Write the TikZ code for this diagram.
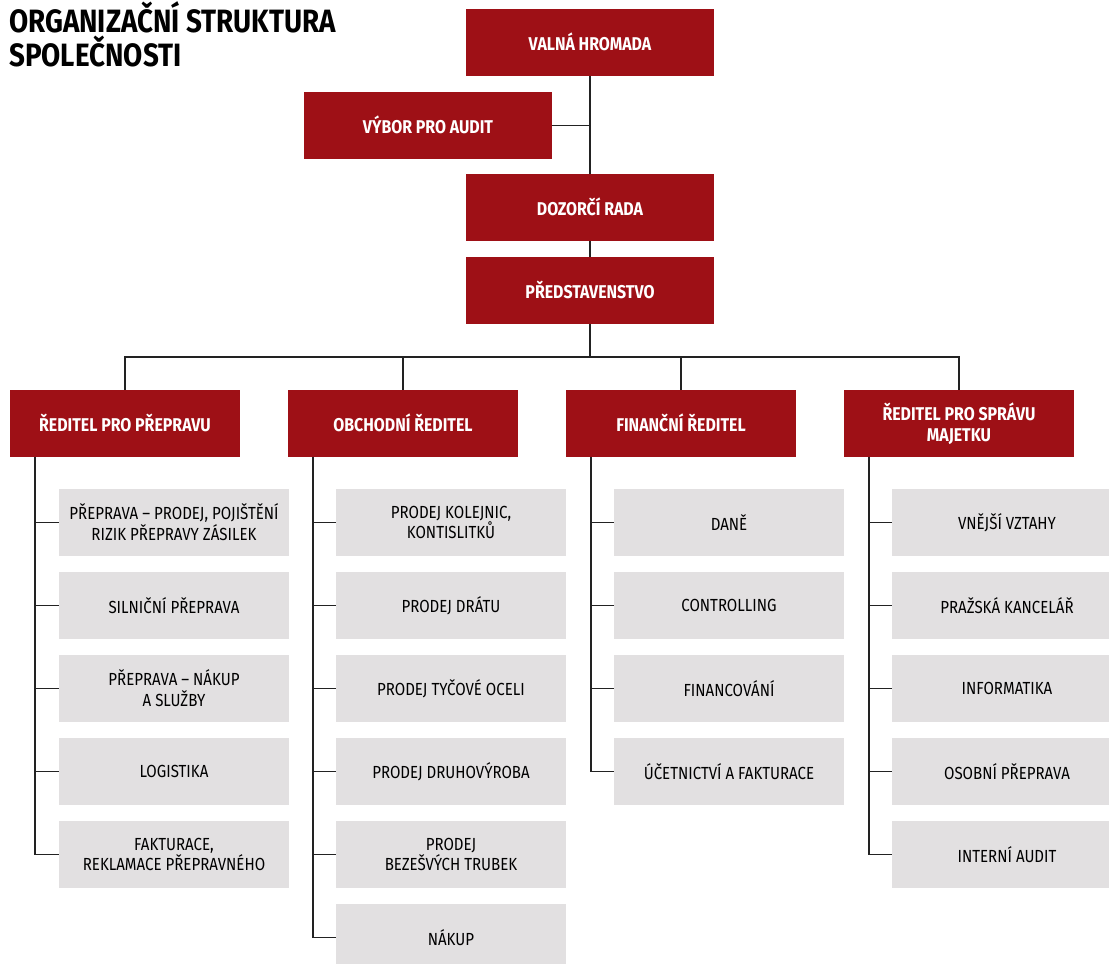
\documentclass[tikz,border=0pt]{standalone}
\usepackage{fontspec}
\setmainfont{Fira Sans}[FakeStretch=0.86]
\definecolor{boxred}{HTML}{9E1016}
\definecolor{boxgrey}{HTML}{E2E0E1}
\definecolor{linec}{HTML}{222222}
\begin{document}
\begin{tikzpicture}[x=1pt,y=-1pt,
  redbox/.style={rectangle,fill=boxred,text=white,inner sep=0pt,minimum height=66.7pt,
    align=center,font=\fontsize{18.5}{21}\selectfont\bfseries},
  topbox/.style={redbox,minimum width=248pt},
  dirbox/.style={redbox,minimum width=230pt},
  greybox/.style={rectangle,fill=boxgrey,text=black,inner sep=0pt,minimum height=66.7pt,
    minimum width=230pt,align=center,font=\fontsize{17.5}{20.5}\selectfont},
  titletext/.style={anchor=base west,inner sep=0pt,font=\fontsize{32.3}{34}\selectfont\bfseries},
  conn/.style={draw=linec,line width=1.3pt}]
\useasboundingbox (0,0) rectangle (1109,964);
\clip (0,0) rectangle (1109,964);
\fill[white] (0,0) rectangle (1109,964);
% title
\node[titletext] (title1) at (9,32) {ORGANIZAČNÍ STRUKTURA};
\node[titletext] (title2) at (9,66) {SPOLEČNOSTI};
% top boxes
\node[topbox] (valna) at (590,42.3) {VALNÁ HROMADA};
\node[topbox] (vybor) at (428,125.3) {VÝBOR PRO AUDIT};
\node[topbox] (dozor) at (590,207.3) {DOZORČÍ RADA};
\node[topbox] (pred) at (590,290.3) {PŘEDSTAVENSTVO};
% directors
\node[dirbox] (d1) at (125,423.3) {ŘEDITEL PRO PŘEPRAVU};
\node[dirbox] (d2) at (403,423.3) {OBCHODNÍ ŘEDITEL};
\node[dirbox] (d3) at (681,423.3) {FINANČNÍ ŘEDITEL};
\node[dirbox] (d4) at (959,423.3) {ŘEDITEL PRO SPRÁVU\\MAJETKU};
% column 1
\node[greybox] (a1) at (174,522.3) {PŘEPRAVA – PRODEJ, POJIŠTĚNÍ\\RIZIK PŘEPRAVY ZÁSILEK};
\node[greybox] (a2) at (174,605.3) {SILNIČNÍ PŘEPRAVA};
\node[greybox] (a3) at (174,688.3) {PŘEPRAVA – NÁKUP\\A SLUŽBY};
\node[greybox] (a4) at (174,771.3) {LOGISTIKA};
\node[greybox] (a5) at (174,854.3) {FAKTURACE,\\REKLAMACE PŘEPRAVNÉHO};
% column 2
\node[greybox] (b1) at (451,522.3) {PRODEJ KOLEJNIC,\\KONTISLITKŮ};
\node[greybox] (b2) at (451,605.3) {PRODEJ DRÁTU};
\node[greybox] (b3) at (451,688.3) {PRODEJ TYČOVÉ OCELI};
\node[greybox] (b4) at (451,771.3) {PRODEJ DRUHOVÝROBA};
\node[greybox] (b5) at (451,854.3) {PRODEJ\\BEZEŠVÝCH TRUBEK};
\node[greybox] (b6) at (451,937.3) {NÁKUP};
% column 3
\node[greybox] (c1) at (729,522.3) {DANĚ};
\node[greybox] (c2) at (729,605.3) {CONTROLLING};
\node[greybox] (c3) at (729,688.3) {FINANCOVÁNÍ};
\node[greybox] (c4) at (729,771.3) {ÚČETNICTVÍ A FAKTURACE};
% column 4
\node[greybox] (e1) at (1007,522.3) {VNĚJŠÍ VZTAHY};
\node[greybox] (e2) at (1007,605.3) {PRAŽSKÁ KANCELÁŘ};
\node[greybox] (e3) at (1007,688.3) {INFORMATIKA};
\node[greybox] (e4) at (1007,771.3) {OSOBNÍ PŘEPRAVA};
\node[greybox] (e5) at (1007,854.3) {INTERNÍ AUDIT};
% top connectors
\draw[conn] (valna.south) -- (dozor.north);
\draw[conn] (vybor.east) -- (vybor.east -| valna.south);
\draw[conn] (dozor.south) -- (pred.north);
\coordinate (bus) at (590,357);
\draw[conn] (pred.south) -- (bus);
\draw[conn] (d1.north) |- (bus) -| (d4.north);
\draw[conn] (d2.north) -- (d2.north |- bus);
\draw[conn] (d3.north) -- (d3.north |- bus);
% column connectors
\coordinate (v1) at (35,456.7);
\coordinate (v2) at (313,456.7);
\coordinate (v3) at (591,456.7);
\coordinate (v4) at (869,456.7);
\draw[conn] (v1) |- (a5.west);
\foreach \n in {a1,a2,a3,a4} \draw[conn] (\n.west) -- (\n.west -| v1);
\draw[conn] (v2) |- (b6.west);
\foreach \n in {b1,b2,b3,b4,b5} \draw[conn] (\n.west) -- (\n.west -| v2);
\draw[conn] (v3) |- (c4.west);
\foreach \n in {c1,c2,c3} \draw[conn] (\n.west) -- (\n.west -| v3);
\draw[conn] (v4) |- (e5.west);
\foreach \n in {e1,e2,e3,e4} \draw[conn] (\n.west) -- (\n.west -| v4);
\end{tikzpicture}
\end{document}
